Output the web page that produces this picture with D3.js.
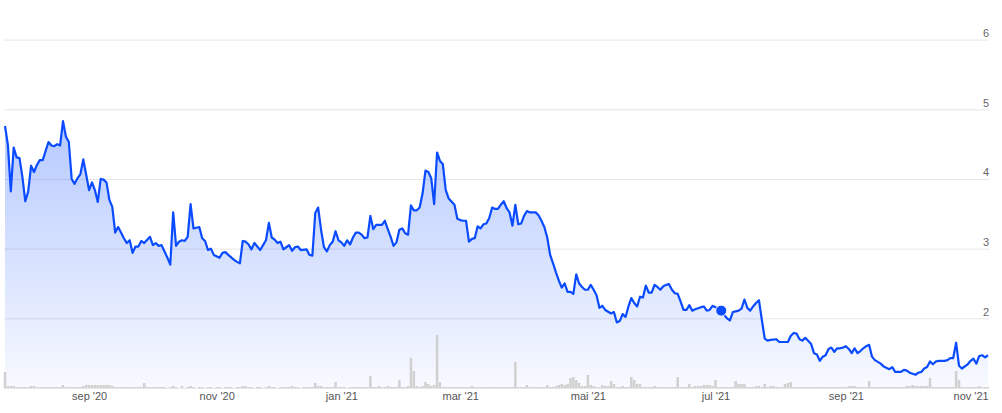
<!DOCTYPE html>
<html><head><meta charset="utf-8">
<script src="https://cdn.jsdelivr.net/npm/d3@7"></script>
<style>html,body{margin:0;padding:0;background:#fff;overflow:hidden}svg{display:block}</style>
</head><body>
<svg id="chart" width="1002" height="413"></svg>
<script>
// trading-day index (0 = first day shown) and closing price
const tradingDay = [
0,1,2,3,4,5,6,7,8,9,10,11,12,13,15,16,17,18,19,20,21,22,23,24,25,26,27,28,29,30,
31,32,33,34,35,36,37,38,39,40,41,42,43,44,45,46,47,48,50,51,52,53,54,55,56,57,58,59,60,
61,62,63,64,65,66,67,68,69,70,71,72,74,75,76,77,79,80,81,82,83,84,85,86,87,88,89,90,
91,92,93,94,95,96,97,98,99,100,101,102,104,105,106,107,108,109,110,111,112,113,114,115,
116,117,118,119,120,121,122,123,124,125,126,127,128,130,131,132,133,134,135,136,137,138,139,
140,141,142,143,144,145,146,147,148,149,150,151,152,153,155,156,157,158,159,160,161,162,
163,164,165,166,167,168,169,170,171,172,173,174,175,176,177,178,179,180,181,182,183,184,
185,186,187,188,189,190,191,192,193,194,195,196,197,198,199,200,201,202,203,204,205,206,
207,209,210,211,212,213,214,215,216,217,218,219,220,221,222,223,224,225,226,227,228,229,
230,231,232,233,234,235,236,237,238,240,241,242,243,244,245,246,247,248,249,250,251,252,
253,254,255,256,257,258,259,260,261,262,263,264,266,267,268,269,270,271,272,273,274,275,
276,278,279,280,281,282,283,284,285,286,287,288,289,290,291,292,293,294,295,296,297,298,
299,300,302,303,305,306,307,309,310,311,312,314,315,316,317,318,319,320,321,322,324,325,
326,327,328,329,330,332,333,334,335,336,337,338,339];
const price = [
4.76,4.49,3.82,4.45,4.31,4.30,4.03,3.68,3.82,4.19,4.10,4.20,4.27,4.27,4.53,4.48,4.47,4.50,4.48,4.83,4.61,4.53,4.00,3.93,4.01,4.07,4.28,4.06,3.84,3.95,
3.84,3.67,4.00,3.99,3.95,3.70,3.60,3.23,3.31,3.23,3.15,3.08,3.12,2.94,3.03,3.03,3.11,3.08,3.17,3.05,3.08,3.04,3.05,2.96,2.87,2.77,3.52,3.04,3.10,
3.12,3.11,3.17,3.64,3.29,3.30,3.31,3.15,3.11,2.98,3.00,2.91,2.87,2.94,2.95,2.91,2.84,2.81,2.79,3.11,3.10,3.06,2.99,3.08,3.03,2.98,3.05,3.12,
3.37,3.16,3.13,3.08,3.10,2.99,3.02,3.05,2.97,3.02,3.03,2.98,2.99,2.91,2.90,3.51,3.59,3.27,3.02,2.96,3.05,3.10,3.25,3.12,
3.09,3.04,3.12,3.06,3.16,3.23,3.23,3.20,3.15,3.16,3.47,3.28,3.34,3.34,3.40,3.28,3.17,3.04,3.09,3.27,3.29,3.22,3.20,
3.62,3.55,3.55,3.59,3.79,4.12,4.10,4.01,3.64,4.38,4.26,4.21,3.84,3.72,3.63,3.43,3.41,3.40,3.40,3.10,3.14,3.15,
3.32,3.29,3.35,3.36,3.44,3.59,3.57,3.57,3.63,3.68,3.58,3.52,3.33,3.63,3.35,3.36,3.47,3.54,3.52,3.52,3.52,3.48,
3.40,3.31,3.16,2.91,2.79,2.66,2.54,2.44,2.50,2.38,2.38,2.35,2.63,2.50,2.45,2.41,2.41,2.48,2.41,2.33,2.15,2.18,
2.12,2.07,2.09,1.94,1.96,2.06,2.02,2.17,2.29,2.22,2.17,2.31,2.30,2.47,2.37,2.37,2.48,2.45,2.41,2.46,2.48,2.49,
2.41,2.36,2.35,2.24,2.12,2.12,2.19,2.11,2.13,2.16,2.17,2.11,2.12,2.18,2.16,2.14,2.11,2.05,2.00,1.97,2.09,2.10,
2.11,2.14,2.27,2.15,2.11,2.17,2.22,2.26,1.98,1.71,1.68,1.69,1.70,1.66,1.66,1.66,1.66,1.75,1.79,1.78,1.70,1.68,
1.72,1.63,1.50,1.48,1.39,1.45,1.47,1.56,1.58,1.52,1.57,1.57,1.58,1.60,1.56,1.50,1.57,1.50,1.53,1.57,1.60,1.62,
1.45,1.40,1.35,1.31,1.27,1.30,1.23,1.23,1.26,1.25,1.22,1.19,1.22,1.23,1.28,1.30,1.38,1.34,1.38,1.39,1.39,1.40,
1.43,1.43,1.65,1.32,1.28,1.34,1.39,1.42,1.35,1.46,1.47,1.44,1.47];
// daily traded volume (one per trading day, relative units)
const volume = [
16,2,2,2,1,1,1,1,1,2, 2,1,1,1,1,1,1,1,1,1,
3,1,1,1,1,1,1,2,3,3, 3,3,3,3,3,3,3,2,1,1,
1,1,1,1,1,1,1,1,5,1, 1,1,1,1,1,1,0,1,2,1,
0,2,0,1,2,1,0,1,1,0, 1,1,0,1,1,0,1,1,1,0,
1,1,2,2,1,1,0,1,1,0, 1,2,1,1,0,1,1,1,1,2,
1,1,0,1,1,1,1,5,2,2, 1,1,1,1,6,1,1,1,0,1,
1,1,1,1,1,1,12,1,1,2, 1,1,2,1,1,1,8,1,1,2,
30,17,2,1,2,6,4,2,3,53, 6,1,1,1,1,1,1,1,1,1,
1,2,1,1,1,1,1,1,1,1, 1,1,1,1,1,1,26,1,1,1,
3,1,1,1,1,1,1,3,1,1, 2,3,4,3,4,10,11,8,5,2,
2,13,3,2,1,1,3,2,2,7, 4,1,1,2,1,1,11,8,4,4,
1,1,1,1,2,1,1,1,1,1, 1,1,11,1,1,1,4,1,2,2,
2,3,3,3,2,8,1,1,1,1, 1,1,7,4,4,4,1,1,1,2,
2,1,4,1,2,2,1,1,1,4, 5,6,1,1,1,1,1,1,1,1,
1,1,1,1,1,1,1,1,1,1, 1,2,2,2,1,1,1,1,7,1,
1,1,1,1,1,1,1,1,1,1, 1,2,2,3,2,2,2,2,2,10,
1,1,1,1,1,1,1,1,17,8, 1,1,1,1,1,1,2,1,1,1];
const tickDay = [29, 73, 116, 157, 201, 245, 290, 333];
const tickLabel = ["sep '20", "nov '20", "jan '21", "mar '21", "mai '21", "jul '21", "sep '21", "nov '21"];
const yTicks = [2, 3, 4, 5, 6];
const highlightDay = 247;

const data = tradingDay.map((d, i) => ({d, v: price[i]}));
const svg = d3.select("#chart");
const font = "'Liberation Sans', Arial, sans-serif";

const x = d3.scaleLinear().domain([0, volume.length - 1]).range([5, 988]);
const y = d3.scaleLinear().domain([1, 6]).range([388, 39.6]);
const yVol = d3.scaleLinear().domain([0, 55]).range([388, 333]);

// gradient
const defs = svg.append("defs");
const grad = defs.append("linearGradient").attr("id", "fillGrad")
  .attr("gradientUnits", "userSpaceOnUse")
  .attr("x1", 0).attr("x2", 0).attr("y1", y(d3.max(price))).attr("y2", y(1));
grad.append("stop").attr("offset", 0).attr("stop-color", "#0a4bff").attr("stop-opacity", 0.3);
grad.append("stop").attr("offset", 1).attr("stop-color", "#0a4bff").attr("stop-opacity", 0.03);

// gridlines + y labels
const yAxis = d3.axisRight(y).tickValues(yTicks).tickSize(985).tickFormat(d3.format("d"));
const gy = svg.append("g").attr("transform", "translate(4,0)").call(yAxis);
gy.select(".domain").remove();
gy.selectAll(".tick line").attr("stroke", "#e6e6e6").attr("stroke-width", 1);
gy.selectAll(".tick text")
  .attr("x", 985).attr("dy", "-3px").attr("text-anchor", "end")
  .attr("font-family", font).attr("font-size", 11).attr("fill", "#666");

// baseline
svg.append("line").attr("x1", 4).attr("x2", 989).attr("y1", y(1) + 0.5).attr("y2", y(1) + 0.5)
  .attr("stroke", "#e6e6e6");

// area
svg.append("path").datum(data)
  .attr("fill", "url(#fillGrad)")
  .attr("d", d3.area().x(p => x(p.d)).y0(y(1)).y1(p => y(p.v)));

// volume bars
const bw = (x(1) - x(0)) - 0.4;
svg.append("g").selectAll("rect").data(volume).join("rect")
  .attr("x", (v, i) => x(i) - bw / 2)
  .attr("width", bw)
  .attr("y", v => yVol(v))
  .attr("height", v => y(1) - yVol(v))
  .attr("fill", "#d0d0d0");

// line
svg.append("path").datum(data)
  .attr("fill", "none").attr("stroke", "#0a4bff").attr("stroke-width", 2.2)
  .attr("stroke-linejoin", "round")
  .attr("d", d3.line().x(p => x(p.d)).y(p => y(p.v)));

// highlight dot
const hp = data.find(p => p.d === highlightDay);
svg.append("circle").attr("cx", x(hp.d)).attr("cy", y(hp.v)).attr("r", 5.5)
  .attr("fill", "#0a4bff").attr("stroke", "#fff").attr("stroke-width", 1);

// x axis labels
const xAxis = d3.axisBottom(x).tickValues(tickDay).tickSize(0)
  .tickFormat((d, i) => tickLabel[i]);
const gx = svg.append("g").attr("transform", "translate(0,388)").call(xAxis);
gx.select(".domain").remove();
gx.selectAll(".tick text").attr("dy", "0").attr("y", 11.5)
  .attr("font-family", font).attr("font-size", 11).attr("fill", "#555");
</script>
</body></html>
